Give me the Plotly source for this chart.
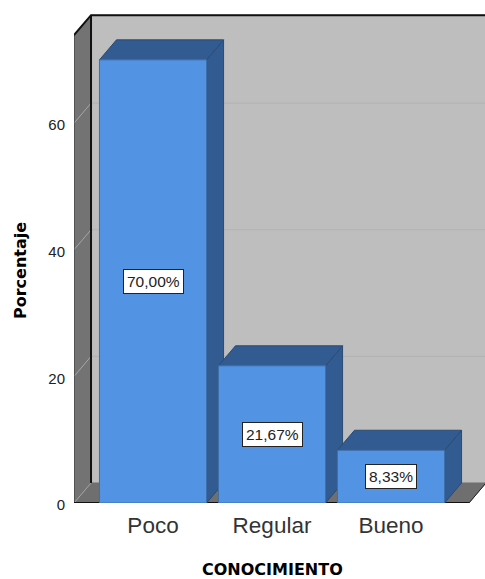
import plotly.graph_objects as go

categories = ["Poco", "Regular", "Bueno"]
percentages = [70.00, 21.67, 8.33]
y_ticks = [0, 20, 40, 60]
x_title = "CONOCIMIENTO"
y_title = "Porcentaje"

positions = list(range(len(categories)))
labels = [f"{v:.2f}".replace(".", ",") + "%" for v in percentages]

BAR_W = 0.9
XL, XR = -0.664, 2.655      # front plane
DX, DY = 0.143, 3.16        # depth offset
WALL = 73.9                 # wall height at the front plane
X_MAX, Y_MAX = 2.79, 77.4

BLUE, DARK, EDGE = "#5393E3", "#325C91", "#2C4B73"
WALL_BACK, WALL_SIDE, FLOOR = "#BEBEBE", "#737373", "#6F6F6F"

fig = go.Figure()


def poly(xs, ys, fill, line=None, width=1):
    fig.add_trace(go.Scatter(x=xs, y=ys, mode="lines", fill="toself", fillcolor=fill,
                             line=dict(color=line or fill, width=width),
                             hoverinfo="skip", showlegend=False))


def seg(xs, ys, color, width=1):
    fig.add_trace(go.Scatter(x=xs, y=ys, mode="lines", line=dict(color=color, width=width),
                             hoverinfo="skip", showlegend=False))


# walls and floor
poly([XL + DX, XR + DX + 1, XR + DX + 1, XL + DX, XL + DX], [DY, DY, WALL + DY, WALL + DY, DY], WALL_BACK)
poly([XL, XL + DX, XL + DX, XL, XL], [0, DY, WALL + DY, WALL, 0], WALL_SIDE)
poly([XL, XR, XR + DX, XL + DX, XL], [0, 0, DY, DY, 0], FLOOR)

# grid
for t in y_ticks:
    seg([XL, XL + DX], [t, t + DY], "#A6A6A6")
    if t:
        seg([XL + DX, XR + DX + 1], [t + DY, t + DY], "#B2B2B2")

# frame
seg([XL, XL], [0, WALL], "#333333")
seg([XL, XL + DX, XR + DX + 1], [WALL, WALL + DY, WALL + DY], "#111111", 2)
seg([XL + DX, XL + DX], [DY, WALL + DY], "#111111", 2)
seg([XR, XR + DX], [0, DY], "#222222")
seg([XL, XR], [0, 0], "#111111", 2)

# bar tops and sides, left to right
for p, v in zip(positions, percentages):
    a, b = p - BAR_W / 2, p + BAR_W / 2
    poly([b, b + DX, b + DX, b, b], [0, DY, v + DY, v, 0], DARK, EDGE)
    poly([a, b, b + DX, a + DX, a], [v, v, v + DY, v + DY, v], DARK, EDGE)

# bar fronts, on an overlay so they cover the neighbour's side
fig.add_trace(go.Bar(x=positions, y=percentages, width=BAR_W, xaxis="x2", yaxis="y2",
                     marker=dict(color=BLUE, line=dict(color="#3F6FA8", width=1)),
                     hoverinfo="skip", showlegend=False))

annotations = [
    dict(x=p, y=v / 2, xref="x2", yref="y2", text=lab, showarrow=False,
         font=dict(family="Liberation Sans", size=15.5, color="#222222"),
         bgcolor="white", bordercolor="#222222", borderwidth=1, borderpad=3)
    for p, v, lab in zip(positions, percentages, labels)
]
annotations.append(dict(x=0.4818, y=-0.1347, xref="paper", yref="paper", text=f"<b>{x_title}</b>",
                        xanchor="center", yanchor="middle", showarrow=False,
                        font=dict(family="DejaVu Sans", size=16, color="black")))
annotations.append(dict(x=-0.1314, y=0.4755, xref="paper", yref="paper", text=f"<b>{y_title}</b>",
                        xanchor="center", yanchor="middle", textangle=-90, showarrow=False,
                        font=dict(family="DejaVu Sans", size=16, color="black")))

fig.update_layout(
    width=485, height=579, autosize=False,
    margin=dict(l=74, r=0, t=13, b=76),
    paper_bgcolor="white", plot_bgcolor="white",
    showlegend=False, annotations=annotations,
    xaxis=dict(range=[XL, X_MAX], tickmode="array", tickvals=positions, ticktext=categories,
               showgrid=False, zeroline=False, showline=False, ticks="", ticklabelstandoff=6,
               tickfont=dict(family="Liberation Sans", size=22.5, color="#333333")),
    yaxis=dict(range=[0, Y_MAX], tickmode="array", tickvals=y_ticks,
               showgrid=False, zeroline=False, showline=False, ticks="", ticklabelstandoff=8,
               ticklabelshift=2,
               tickfont=dict(family="Liberation Sans", size=15, color="#222222")),
    xaxis2=dict(range=[XL, X_MAX], overlaying="x", visible=False),
    yaxis2=dict(range=[0, Y_MAX], overlaying="y", visible=False),
)

fig.write_html("out.html", config={"displayModeBar": False},
               post_script="document.body.style.margin='0';")
